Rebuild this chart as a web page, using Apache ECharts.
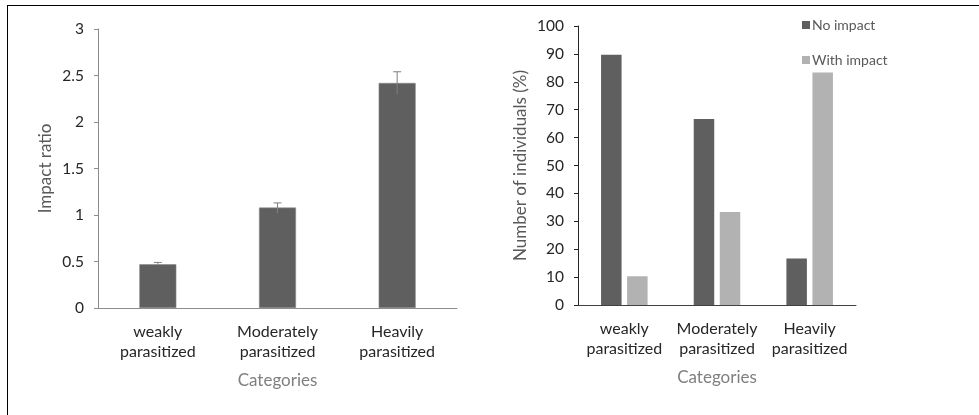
<!DOCTYPE html>
<html>
<head>
<meta charset="utf-8">
<script src="https://cdn.jsdelivr.net/npm/echarts@6/dist/echarts.min.js"></script>
<style>
html,body{margin:0;padding:0;background:#fff;}
#frame{position:absolute;left:7px;top:5px;width:972px;height:420px;border-left:1.5px solid #000;border-top:1.5px solid #000;box-sizing:border-box;}
#chart{position:absolute;left:0;top:0;width:979px;height:415px;}
</style>
</head>
<body>
<div id="chart"></div>
<div id="frame"></div>
<script>
const categories = ['weakly\nparasitized', 'Moderately\nparasitized', 'Heavily\nparasitized'];
const impactRatio = [0.47, 1.08, 2.42];
const impactErrLow = [0.46, 1.02, 2.30];
const impactErrHigh = [0.49, 1.13, 2.54];
const noImpact = [89.7, 66.7, 16.7];
const withImpact = [10.3, 33.3, 83.3];
const leftTicks = [0, 0.5, 1, 1.5, 2, 2.5, 3];
const rightTicks = [0, 10, 20, 30, 40, 50, 60, 70, 80, 90, 100];

const FONT = 'Lato, "Open Sans", sans-serif';
const chart = echarts.init(document.getElementById('chart'), null, {renderer: 'canvas'});

const errData = categories.map((c, i) => [i, impactErrLow[i], impactErrHigh[i]]);

const xAxisCommon = {
  type: 'category',
  data: categories,
  axisTick: {show: false},
  axisLine: {lineStyle: {color: '#8c8c8c', width: 1}},
  axisLabel: {color: '#262626', fontSize: 16, fontFamily: FONT, lineHeight: 20, margin: 14, interval: 0},
  name: 'Categories',
  nameLocation: 'middle',
  nameTextStyle: {color: '#7f7f7f', fontSize: 17, fontFamily: FONT}
};

chart.setOption({
  animation: false,
  grid: [
    {left: 98, top: 29, width: 359, height: 279},
    {left: 578, top: 26, width: 278, height: 279}
  ],
  legend: {
    data: ['No impact', 'With impact'],
    orient: 'vertical',
    left: 797,
    top: 13,
    itemWidth: 8,
    itemHeight: 8,
    itemGap: 21,
    icon: 'rect',
    textStyle: {color: '#595959', fontSize: 14, fontFamily: FONT, padding: [0, 0, 0, -3]}
  },
  xAxis: [
    Object.assign({}, xAxisCommon, {gridIndex: 0, nameGap: 64}),
    Object.assign({}, xAxisCommon, {gridIndex: 1, nameGap: 64, axisLine: {lineStyle: {color: '#404040', width: 1}}})
  ],
  yAxis: [
    {
      type: 'value', gridIndex: 0, min: 0, max: 3, interval: 0.5,
      splitLine: {show: false},
      axisLine: {show: true, lineStyle: {color: '#8c8c8c'}},
      axisTick: {show: true, length: 4, lineStyle: {color: '#8c8c8c'}},
      axisLabel: {color: '#262626', fontSize: 15.5, fontFamily: FONT, margin: 14,
        formatter: v => leftTicks.indexOf(v) >= 0 ? String(v) : ''},
      name: 'Impact ratio', nameLocation: 'middle', nameGap: 44,
      nameTextStyle: {color: '#595959', fontSize: 17, fontFamily: FONT}
    },
    {
      type: 'value', gridIndex: 1, min: 0, max: 100, interval: 10,
      splitLine: {show: false},
      axisLine: {show: true, lineStyle: {color: '#262626'}},
      axisTick: {show: true, length: 4, lineStyle: {color: '#262626'}},
      axisLabel: {color: '#262626', fontSize: 15.5, fontFamily: FONT, margin: 14,
        formatter: v => rightTicks.indexOf(v) >= 0 ? String(v) : ''},
      name: 'Number of individuals (%)', nameLocation: 'middle', nameGap: 49,
      nameTextStyle: {color: '#595959', fontSize: 17, fontFamily: FONT}
    }
  ],
  series: [
    {
      name: 'Impact ratio', type: 'bar', xAxisIndex: 0, yAxisIndex: 0,
      data: impactRatio, barWidth: 37,
      itemStyle: {color: '#5f5f5f', borderColor: '#8a8a8a', borderWidth: 0.6}
    },
    {
      name: 'err', type: 'custom', xAxisIndex: 0, yAxisIndex: 0,
      data: errData, z: 10,
      renderItem: function (params, api) {
        const x = api.value(0);
        const lo = api.coord([x, api.value(1)]);
        const hi = api.coord([x, api.value(2)]);
        const half = 4;
        return {
          type: 'group',
          children: [
            {type: 'line', shape: {x1: hi[0], y1: hi[1], x2: lo[0], y2: lo[1]}, style: {stroke: '#7f7f7f', lineWidth: 1}},
            {type: 'line', shape: {x1: hi[0] - half, y1: hi[1], x2: hi[0] + half, y2: hi[1]}, style: {stroke: '#7f7f7f', lineWidth: 1}}
          ]
        };
      }
    },
    {
      name: 'No impact', type: 'bar', xAxisIndex: 1, yAxisIndex: 1,
      data: noImpact, barWidth: 20.5, barGap: '27%',
      itemStyle: {color: '#5f5f5f'}
    },
    {
      name: 'With impact', type: 'bar', xAxisIndex: 1, yAxisIndex: 1,
      data: withImpact, barWidth: 20.5, barGap: '27%',
      itemStyle: {color: '#b2b2b2'}
    }
  ]
});
</script>
</body>
</html>
